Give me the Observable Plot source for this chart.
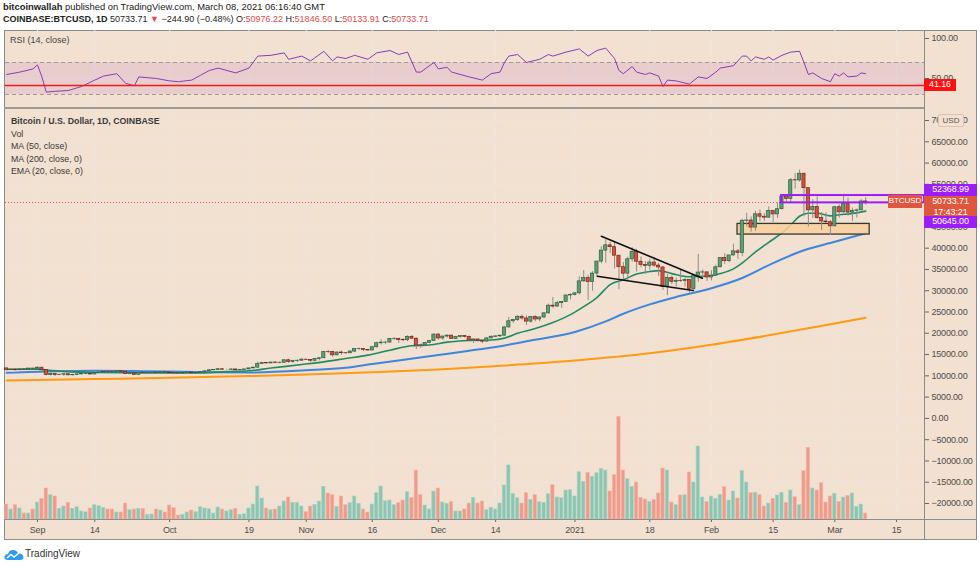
<!DOCTYPE html>
<html><head><meta charset="utf-8">
<script src="https://cdn.jsdelivr.net/npm/d3@7"></script>
<script src="https://cdn.jsdelivr.net/npm/@observablehq/plot@0.6"></script>
<style>
body{margin:0;background:#fff;font-family:"Liberation Sans",Arial,sans-serif;}
#root{position:relative;width:980px;height:567px;overflow:hidden;background:#fff}
.abs{position:absolute;white-space:nowrap}
.plot{position:absolute;left:0}
.tag{position:absolute;color:#fff;font-family:"Liberation Sans",Arial,sans-serif;font-size:9px;letter-spacing:-0.1px;text-align:center;line-height:11px;white-space:nowrap}
</style></head><body><div id="root"></div>
<script>
// ---------------- DATA ----------------
const OPEN = [
 11750,11330,11460,11320,11530,11480,11710,
 11680,11920,11400,10170,10480,10170,10260,10380,10130,10230,10350,10400,10440,10330,10680,10790,10960,10940,10930,11090,10920,10420,10530,10240,10740,10690,10730,10780,10700,10840,
 10780,10620,10570,10550,10670,10790,10600,10670,10920,11060,11300,11380,11550,11430,11430,11500,11320,11370,11510,11750,11920,12820,12990,12930,13120,13040,13070,13650,13280,13460,13560,
 13800,13760,13550,13950,14130,15580,15570,14830,15480,15330,15300,15700,16290,16330,16070,15960,16720,17660,17800,17820,18680,18700,18420,18370,19160,18730,17150,17140,17720,18180,
 19700,18790,19230,19450,18700,19150,19360,19170,18320,18550,18250,18040,18800,19170,19270,19440,21380,22830,23140,23870,23480,22740,23830,23250,23720,24690,26490,26280,27080,27380,28880,
 28990,29390,32200,33000,32030,34030,36850,39430,40670,40240,38240,35540,34010,37390,39150,36820,36070,35820,36630,35910,35470,30850,33000,32100,32290,32260,32520,30430,33440,34270,34320,
 33110,33530,35510,37670,36950,38290,39260,38870,46450,46510,44840,47970,47390,47170,48720,47940,49170,52150,51590,55970,55920,57490,54100,48890,49680,47060,46280,46110,
 45140,49620,48440,50340,48370,48760,48880,50976.22];
const HIGH = [
 11770,11540,11590,11550,11580,11720,11780,
 12070,11950,11460,10650,10560,10340,10400,10430,10350,10500,10410,10480,10580,10800,10940,11100,11050,11040,11180,11090,10990,10560,10540,10790,10760,10780,10800,10950,10870,10850,
 10940,10650,10600,10690,10800,10800,10690,10960,11110,11490,11440,11720,11560,11550,11640,11540,11400,11520,11820,12030,13230,13200,13030,13170,13350,13250,13790,13860,13650,13690,14100,
 13900,13820,14070,14250,15760,15970,15780,15660,15850,15480,15960,16350,16490,16330,16140,16880,17860,18480,18150,18800,18960,18720,18770,19420,19480,18920,17450,17880,18350,19860,
 19920,19330,19600,19530,19180,19420,19420,19300,18640,18560,18290,18950,19420,19350,19570,21560,23770,23290,24170,24300,24100,23840,24110,23780,24790,26870,28420,27500,27400,28990,29300,
 29600,33300,34780,33600,34500,36950,40360,41950,41380,41350,38260,36630,37850,40100,39700,37950,36850,37450,37850,36420,35600,33860,33490,32980,34880,32940,32560,33800,38530,34890,34320,
 34720,35980,37700,38700,38310,40950,39700,46800,48200,47350,48680,48980,48150,49710,48880,50600,52600,52550,56370,57500,58350,57530,54200,51370,52050,48390,48320,46590,
 49770,50200,52640,51800,49450,49200,51420,51846.5];
const LOW = [
 11120,11270,11150,11280,11430,11460,11600,
 11540,11180,10010,9960,9880,10030,9900,9980,10010,10200,10200,10290,10220,10260,10630,10670,10750,10820,10900,10780,10300,10360,10140,10200,10560,10650,10620,10640,10650,10670,
 10440,10380,10510,10530,10600,10530,10560,10540,10820,11050,11250,11230,11300,11290,11270,11230,11300,11350,11410,11690,11900,12700,12740,12880,12900,12800,13060,12950,12990,13120,13430,
 13620,13200,13290,13530,14100,15210,14350,14710,14810,15080,15280,15460,15970,15710,15810,15880,16560,17220,17340,17750,18330,17630,18000,18030,18530,16200,16450,16880,17550,18180,
 18330,18330,18890,18570,18510,18880,18900,18200,17630,17910,17570,18020,18740,19000,19050,19290,21230,22350,22770,23060,21820,22360,22700,22700,23440,24510,25880,26120,25870,27330,27850,
 28740,29000,31960,27680,29900,33390,36340,36500,38720,35110,30260,32530,32400,36700,34410,35360,33850,34800,35500,33400,30070,28850,31400,30900,31920,30830,29240,29880,31950,32840,32200,
 32300,33420,35380,36200,36600,38140,37370,37990,45000,43750,43980,46200,46300,47050,45960,47000,48950,50910,50630,53860,55520,47400,45000,47010,46820,44180,45860,43000,
 45020,47050,48130,47500,46300,47080,48880,50133.91];
const CLOSE = [
 11330,11460,11320,11530,11480,11710,11680,
 11920,11400,10170,10480,10170,10260,10380,10130,10230,10350,10400,10440,10330,10680,10790,10960,10940,10930,11090,10920,10420,10530,10240,10740,10690,10730,10780,10700,10840,10780,
 10620,10570,10550,10670,10790,10600,10670,10920,11060,11300,11380,11550,11430,11430,11500,11320,11370,11510,11750,11920,12820,12990,12930,13120,13040,13070,13650,13280,13460,13560,13800,
 13760,13550,13950,14130,15580,15570,14830,15480,15330,15300,15700,16290,16330,16070,15960,16720,17660,17800,17820,18680,18700,18420,18370,19160,18730,17150,17140,17720,18180,19700,
 18790,19230,19450,18700,19150,19360,19170,18320,18550,18250,18040,18800,19170,19270,19440,21380,22830,23140,23870,23480,22740,23830,23250,23720,24690,26490,26280,27080,27380,28880,28990,
 29390,32200,33000,32030,34030,36850,39430,40670,40240,38240,35540,34010,37390,39150,36820,36070,35820,36630,35910,35470,30850,33000,32100,32290,32260,32520,30430,33440,34270,34320,33110,
 33530,35510,37670,36950,38290,39260,38870,46450,46510,44840,47970,47390,47170,48720,47940,49170,52150,51590,55970,55920,57490,54100,48890,49680,47060,46280,46110,45140,
 49620,48440,50340,48370,48760,48880,50970,50733.71];
// volume (thousand BTC)
const VOLUME = [
 15,10,14.3,11,6,6,10,
 17,20.7,31,24.3,23,10.7,13,16.7,10.7,12.3,8,7.3,11,14.3,13.3,11.7,10,10,7,7,16,9.3,10,10.7,10.7,4.7,5,10,9,7,
 14,11.3,4,4.7,7,9,7.3,12.3,11,10.3,6,12,10,8,9.3,10.7,4.7,5.3,11,15,33,21,11,9.3,10,13,18,22,16.7,16.7,13,
 7.3,13,14.7,18,32.7,26,24.3,12.7,23,14.3,16.3,23,15.7,10,7,15,26.3,33,18.3,19,14.3,16.3,19,27.3,21.3,49,24.3,14,10,28,
 31,17,15.7,17.7,8,8,10,16,21.7,16,18,9.3,11.7,10,16,34,54,25.7,21.3,16,26.3,19.7,24.3,17.3,16.7,25.3,34.3,22,21.3,29,29.3,
 23,47.3,37.7,46.7,42.7,46.3,50.7,49,28,44.3,102.7,49,40.3,32.7,37,21.7,20,17.7,19.7,26,51,49,17,14.3,24,24.3,47,37,73,22,17.3,
 23,20.7,24.7,32.3,19,28,21,48.7,37,26.3,26.7,24.3,13,16,20.7,24,26.7,16.7,29,22.3,14.3,48.3,71.7,31,29,36.3,17,23,
 25.7,17.7,22,23.7,26,12.7,15,6];

const MA50_DATES = ["2020-08-25","2020-09-05","2020-09-14","2020-09-25","2020-10-01","2020-10-10","2020-10-19","2020-11-01","2020-11-10","2020-11-16","2020-11-24","2020-12-01","2020-12-08","2020-12-14","2020-12-22","2021-01-01","2021-01-08","2021-01-12","2021-01-18","2021-01-25","2021-02-01","2021-02-08","2021-02-15","2021-02-22","2021-03-01","2021-03-08"];
const MA50_VALUES = [10700,11100,11200,11100,11000,10850,10800,11300,11900,12800,13900,14900,15900,16800,18300,20300,22800,24600,26800,28800,30600,33000,36500,39500,41500,43500];
const MA200_DATES = ["2020-08-25","2020-09-14","2020-10-01","2020-10-19","2020-11-01","2020-11-16","2020-12-01","2020-12-14","2021-01-01","2021-01-18","2021-02-01","2021-02-15","2021-03-01","2021-03-08"];
const MA200_VALUES = [8900,9250,9550,9950,10300,10850,11500,12300,13600,15300,17300,19700,22300,23650];
const EMA20_DATES = ["2020-08-25","2020-09-01","2020-09-03","2020-09-07","2020-09-14","2020-09-21","2020-09-30","2020-10-08","2020-10-14","2020-10-19","2020-10-24","2020-10-31","2020-11-05","2020-11-10","2020-11-15","2020-11-20","2020-11-25","2020-11-29","2020-12-03","2020-12-08","2020-12-13","2020-12-16","2020-12-19","2020-12-23","2020-12-27","2020-12-31","2021-01-03","2021-01-06","2021-01-09","2021-01-12","2021-01-15","2021-01-18","2021-01-20","2021-01-23","2021-01-27","2021-01-31","2021-02-03","2021-02-06","2021-02-08","2021-02-11","2021-02-14","2021-02-17","2021-02-19","2021-02-21","2021-02-23","2021-02-25","2021-02-28","2021-03-02","2021-03-05","2021-03-08"];
const EMA20_VALUES = [11550,11570,11380,11050,10780,10720,10700,10700,11000,11200,11830,12650,13290,14080,14870,16030,17080,17250,17920,18310,18430,18860,20020,21110,22530,24390,26270,28400,31440,32570,33920,34510,34720,34020,33290,33450,34040,35130,36530,39110,41360,43580,45450,47500,48200,48220,47590,47850,48170,48710];

const RSI_DATES = ["2020-08-25","2020-08-28","2020-08-31","2020-09-01","2020-09-02","2020-09-03","2020-09-05","2020-09-08","2020-09-11","2020-09-14","2020-09-16","2020-09-19","2020-09-21","2020-09-23","2020-09-24","2020-09-28","2020-10-01","2020-10-03","2020-10-06","2020-10-08","2020-10-10","2020-10-12","2020-10-16","2020-10-19","2020-10-21","2020-10-24","2020-10-27","2020-10-28","2020-10-31","2020-11-02","2020-11-05","2020-11-07","2020-11-08","2020-11-10","2020-11-12","2020-11-15","2020-11-17","2020-11-20","2020-11-22","2020-11-24","2020-11-26","2020-11-27","2020-11-30","2020-12-01","2020-12-03","2020-12-04","2020-12-08","2020-12-11","2020-12-13","2020-12-15","2020-12-16","2020-12-17","2020-12-19","2020-12-21","2020-12-24","2020-12-26","2020-12-27","2020-12-30","2021-01-02","2021-01-04","2021-01-06","2021-01-08","2021-01-10","2021-01-11","2021-01-12","2021-01-14","2021-01-15","2021-01-17","2021-01-18","2021-01-20","2021-01-21","2021-01-22","2021-01-24","2021-01-27","2021-01-29","2021-01-31","2021-02-02","2021-02-03","2021-02-06","2021-02-08","2021-02-09","2021-02-10","2021-02-11","2021-02-13","2021-02-14","2021-02-15","2021-02-17","2021-02-19","2021-02-21","2021-02-22","2021-02-23","2021-02-24","2021-02-26","2021-02-28","2021-03-01","2021-03-02","2021-03-03","2021-03-04","2021-03-06","2021-03-07","2021-03-08"];
const RSI_VALUES = [55,58,62,67,52,33,34,35,40,48,53,56,44,41,52,50,47,46,48,54,60,63,57,63,78,79,82,74,78,72,84,72,77,75,79,74,82,85,80,83,58,58,70,62,64,58,52,48,56,58,70,78,80,70,74,80,78,83,87,78,85,88,75,60,56,65,58,55,57,53,40,48,47,43,52,50,58,63,66,78,78,72,77,74,77,73,79,83,84,70,55,57,50,46,56,53,57,52,53,57,56];
const RSI_BAND = [30, 70];
const RSI_TICKS = [100, 50];
const RSI_MARK = 41.16;

const TICK_DATES = ["2020-09-01","2020-09-14","2020-10-01","2020-10-19","2020-11-01","2020-11-16","2020-12-01","2020-12-14","2021-01-01","2021-01-18","2021-02-01","2021-02-15","2021-03-01","2021-03-15"];
const TICK_LABELS = ["Sep","14","Oct","19","Nov","16","Dec","14","2021","18","Feb","15","Mar","15"];
const PRICE_TICKS = [-20000,-15000,-10000,-5000,0,5000,10000,15000,20000,25000,30000,35000,40000,45000,50000,55000,60000,65000,70000];
const HIDDEN_TICK_LABELS = [50000]; // covered by the last-price tag in the reference

// drawings
const TRI_UPPER = [{date:"2021-01-07T00:00Z", price:42800},{date:"2021-01-29T22:00Z", price:32930}];
const TRI_LOWER = [{date:"2021-01-06T02:00Z", price:33400},{date:"2021-01-27T20:00Z", price:30050}];
const SUPPORT_ZONE = {from:"2021-02-06T22:00Z", to:"2021-03-08T22:00Z", low:43200, high:45700};
const RESIST_BOX = {from:"2021-02-16T22:00Z", low:50645.00, high:52368.99};
const LAST_PRICE = 50733.71;

// ---------------- BUILD ----------------
const root = document.getElementById("root");
const parse = s => new Date(s.length === 10 ? s + "T00:00Z" : s);
const DAY = 864e5;
const dates = d3.utcDay.range(new Date(Date.UTC(2020,7,25)), new Date(Date.UTC(2021,2,9)));
const candles = dates.map((d,i)=>({date:d, open:OPEN[i], high:HIGH[i], low:LOW[i], close:CLOSE[i], vol:VOLUME[i], up: CLOSE[i] >= OPEN[i]}));
const xDomain = [new Date("2020-08-24T17:40Z"), new Date("2021-03-21T08:40Z")];
const zip = (ds, vs) => ds.map((d,i)=>({date:parse(d), v:vs[i]}));
const tickDates = TICK_DATES.map(parse);
const tickLab = new Map(tickDates.map((d,i)=>[+d, TICK_LABELS[i]]));
const fmt2 = d3.format(".2f");

const C = {bg:"#f2e0d0", grid:"#ece5df", frame:"#8c8c8c", upB:"#5c9f76", upS:"#2e5e40", dnB:"#d9503a", dnS:"#7a2418",
  wick:"#8d8d8d", volUp:"#8cc6b3", volDn:"#f09a8a", blue:"#3d86dc", orange:"#ff9a12", green:"#1f8a66", purple:"#9b1dfa", red:"#df553d"};

function el(html, css){ const d=document.createElement("div"); d.className="abs"; d.style.cssText=css; d.innerHTML=html; root.appendChild(d); return d; }

// header
el('<b>bitcoinwallah</b> published on TradingView.com, March 08, 2021 06:16:40 GMT', 'left:3px;top:1px;font-size:9.4px;color:#222');
el('<b>COINBASE:BTCUSD, 1D</b> 50733.71 <span style="color:#e84a4a">&#9660;</span> &minus;244.90 (&minus;0.48%) O:<span style="color:#e84a4a">50976.22</span> H:<span style="color:#e84a4a">51846.50</span> L:<span style="color:#e84a4a">50133.91</span> C:<span style="color:#e84a4a">50733.71</span>', 'left:3px;top:14px;font-size:9px;color:#222');

// frame
el('', `left:4px;top:30px;width:973px;height:510px;box-sizing:border-box;border:1px solid ${C.frame};background:${C.bg}`);

const FONT = {background:"transparent", overflow:"visible", fontFamily:"Liberation Sans, Arial, sans-serif", fontSize:"9px", color:"#4d4d4d", letterSpacing:"-0.2px"};

// RSI pane
const RSI_TOP = 30;
const rsiPts = zip(RSI_DATES, RSI_VALUES);
const rsiPlot = Plot.plot({
  width:980, height:78, marginLeft:5, marginRight:56, marginTop:0, marginBottom:0,
  x:{type:"utc", domain:xDomain, axis:null}, y:{domain:[12.5,110], axis:null},
  style:FONT,
  marks:[
    Plot.ruleX(tickDates, {stroke:C.grid, strokeWidth:1}),
    Plot.ruleY(RSI_TICKS, {stroke:C.grid, strokeWidth:1}),
    Plot.rectY([RSI_BAND], {x1:()=>xDomain[0], x2:()=>xDomain[1], y1:d=>d[0], y2:d=>d[1], fill:"#9c27b0", fillOpacity:0.1}),
    Plot.ruleY(RSI_BAND, {stroke:"#a09a9a", strokeDasharray:"4,3", strokeWidth:1}),
    Plot.line(rsiPts, {x:"date", y:"v", stroke:"#8b3ab8", strokeWidth:1}),
    Plot.ruleY([RSI_MARK], {stroke:"#f21818", strokeWidth:1.5}),
    Plot.axisY(RSI_TICKS, {anchor:"right", tickSize:4, tickPadding:3, tickFormat:fmt2, label:null, stroke:"#666"})
  ]
});
rsiPlot.classList.add("plot"); rsiPlot.style.top = RSI_TOP + "px"; root.appendChild(rsiPlot);

// separator between panes
el('', `left:4px;top:107px;width:920px;height:2px;background:#9a9a9a`);
el('', `left:924px;top:30px;width:1px;height:510px;background:${C.frame}`);

// main pane
const MAIN_TOP = 109;
const mainPlot = Plot.plot({
  width:980, height:431, marginLeft:5, marginRight:56, marginTop:0, marginBottom:21,
  x:{type:"utc", domain:xDomain}, y:{domain:[-23757, 72587]},
  style:FONT,
  marks:[
    Plot.ruleX(tickDates, {stroke:C.grid, strokeWidth:1}),
    Plot.ruleY(PRICE_TICKS, {stroke:C.grid, strokeWidth:1}),
    Plot.line(zip(MA200_DATES, MA200_VALUES), {x:"date", y:"v", stroke:C.orange, strokeWidth:2, curve:"monotone-x"}),
    Plot.line(zip(MA50_DATES, MA50_VALUES), {x:"date", y:"v", stroke:C.blue, strokeWidth:2, curve:"monotone-x"}),
    Plot.line(zip(EMA20_DATES, EMA20_VALUES), {x:"date", y:"v", stroke:C.green, strokeWidth:1.6, curve:"monotone-x"}),
    Plot.rect([SUPPORT_ZONE], {x1:d=>parse(d.from), x2:d=>parse(d.to), y1:"low", y2:"high", fill:"#f7cf9c", fillOpacity:0.85, stroke:"#3b3530", strokeWidth:1.3}),
    Plot.ruleY([LAST_PRICE], {stroke:C.red, strokeDasharray:"1,2", strokeWidth:1}),
    Plot.ruleX(candles, {x:"date", y1:"low", y2:"high", stroke:C.wick, strokeWidth:1}),
    Plot.rect(candles, {x1:d=>new Date(+d.date-0.36*DAY), x2:d=>new Date(+d.date+0.36*DAY), y1:"open", y2:"close",
      fill:d=>d.up?C.upB:C.dnB, stroke:d=>d.up?C.upS:C.dnS, strokeWidth:0.7}),
    Plot.rect([RESIST_BOX], {x1:d=>parse(d.from), x2:()=>xDomain[1], y1:"low", y2:"high", fill:"none", stroke:C.purple, strokeWidth:2}),
    Plot.line(TRI_UPPER, {x:d=>parse(d.date), y:"price", stroke:"#111", strokeWidth:1.6}),
    Plot.line(TRI_LOWER, {x:d=>parse(d.date), y:"price", stroke:"#111", strokeWidth:1.6}),
    Plot.axisY(PRICE_TICKS, {anchor:"right", tickSize:4, tickPadding:3, tickFormat:d=>HIDDEN_TICK_LABELS.includes(d)?"":fmt2(d), label:null, stroke:"#666"}),
    Plot.axisX(tickDates, {anchor:"bottom", tickSize:3, tickPadding:4, tickFormat:d=>tickLab.get(+d), label:null, stroke:"#666"})
  ]
});
mainPlot.classList.add("plot"); mainPlot.style.top = MAIN_TOP + "px"; root.appendChild(mainPlot);

// volume overlay (own scale, same x)
const volPlot = Plot.plot({
  width:980, height:431, marginLeft:5, marginRight:56, marginTop:0, marginBottom:21,
  x:{type:"utc", domain:xDomain, axis:null}, y:{domain:[0,410], axis:null},
  style:FONT,
  marks:[
    Plot.rectY(candles, {x1:d=>new Date(+d.date-0.38*DAY), x2:d=>new Date(+d.date+0.38*DAY), y:"vol",
      fill:d=>d.up?C.volUp:C.volDn, stroke:d=>d.up?"#a9d4c5":"#f5b4a8", strokeWidth:0.6})
  ]
});
volPlot.classList.add("plot"); volPlot.style.top = MAIN_TOP + "px"; root.appendChild(volPlot);

// x-axis separator line
el('', `left:4px;top:519px;width:973px;height:1px;background:${C.frame}`);

// legends
el('RSI (14, close)', 'left:10px;top:35px;font-size:9px;color:#444');
const leg = ['<b>Bitcoin / U.S. Dollar, 1D, COINBASE</b>','Vol','MA (50, close)','MA (200, close, 0)','EMA (20, close, 0)'];
leg.forEach((t,i)=>el(t, `left:11px;top:${116+i*12.6}px;font-size:8.8px;color:#3a3a3a`));

// price labels on axis
const ym = mainPlot.scale("y"), yr = rsiPlot.scale("y");
const yHi = MAIN_TOP + ym.apply(RESIST_BOX.high), yLo = MAIN_TOP + ym.apply(RESIST_BOX.low), yLast = MAIN_TOP + ym.apply(LAST_PRICE);
function tag(text, left, top, w, h, bg, fs){ const d=document.createElement("div"); d.className="tag"; d.style.cssText=`left:${left}px;top:${top}px;width:${w}px;height:${h}px;background:${bg};` + (fs?`font-size:${fs}px;`:""); d.innerHTML=text; root.appendChild(d); return d; }
tag(fmt2(RESIST_BOX.high), 924, yHi-11, 53, 12, C.purple);
tag(fmt2(LAST_PRICE)+'<br>17:43:21', 924, yLast-6, 53, 22, C.red);
tag(fmt2(RESIST_BOX.low), 924, yLo+14, 53, 12, C.purple);
tag('BTCUSD', 888, yLast-6.5, 34, 13, C.red, 8);
tag(fmt2(RSI_MARK), 924, RSI_TOP + yr.apply(RSI_MARK)-6, 32, 12, "#ff1010");
el('USD', `left:938px;top:114px;width:24px;height:11px;font-size:8px;line-height:11px;text-align:center;color:#555;background:${C.bg};border:1px solid #d6c6b8;border-radius:2px`);

// footer logo
el('<svg width="20" height="12" viewBox="0 0 20 12"><path d="M4 11 Q0 11 0.5 7.5 Q1 5 4 5 Q5 1 9 1 Q13 1 14 4.5 Q19 4 19.5 8 Q19.5 11 16 11 Z" fill="#2f9bf0"/><path d="M3 9 L7 5.5 L10 8 L15 4" stroke="#fff" stroke-width="1.4" fill="none"/></svg>', 'left:4px;top:547px');
el('TradingView', 'left:25px;top:548px;font-size:10px;color:#333');
</script>
</body></html>
